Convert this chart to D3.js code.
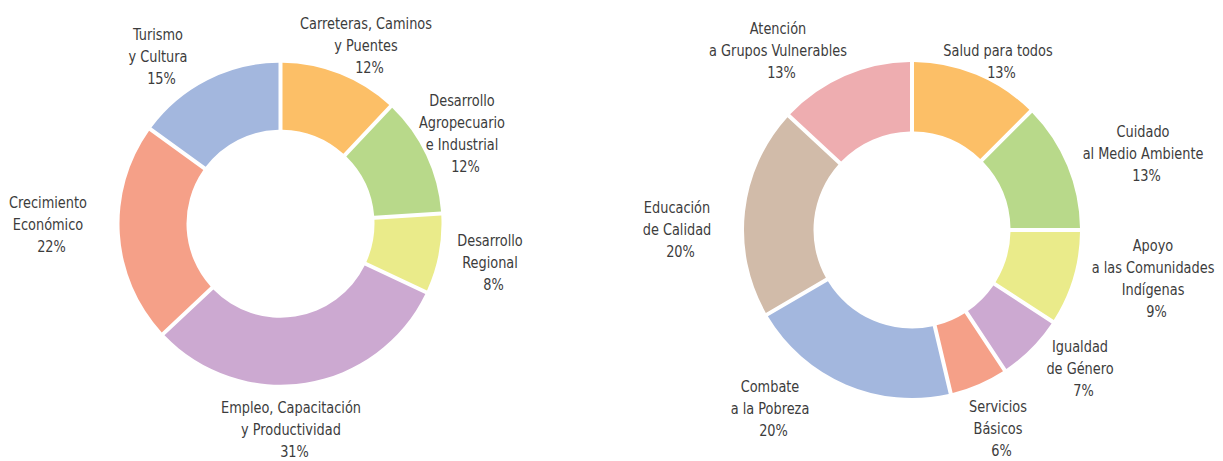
<!DOCTYPE html>
<html>
<head>
<meta charset="utf-8">
<script src="https://cdn.jsdelivr.net/npm/d3@7"></script>
<style>
  body { margin: 0; background: #fff; }
  text { font-family: "DejaVu Sans Condensed", "Liberation Sans Narrow", sans-serif; font-size: 16.5px; fill: #3c3c3c; }
</style>
</head>
<body>
<div id="chart"></div>
<script>
var width = 1223;
var height = 461;

// left donut
var leftNames = [
  ["Carreteras, Caminos", "y Puentes"],
  ["Desarrollo", "Agropecuario", "e Industrial"],
  ["Desarrollo", "Regional"],
  ["Empleo, Capacitación", "y Productividad"],
  ["Crecimiento", "Económico"],
  ["Turismo", "y Cultura"]
];
var leftValues = [12, 12, 8, 31, 22, 15];
var leftColors = ["#fcbf67", "#b8d98a", "#eaeb8a", "#cca9d1", "#f5a088", "#a3b7de"];

var rightNames = [
  ["Salud para todos"],
  ["Cuidado", "al Medio Ambiente"],
  ["Apoyo", "a las Comunidades", "Indígenas"],
  ["Igualdad", "de Género"],
  ["Servicios", "Básicos"],
  ["Combate", "a la Pobreza"],
  ["Educación", "de Calidad"],
  ["Atención", "a Grupos Vulnerables"]
];
var rightValues = [12.5, 12.5, 9.2, 6.5, 5.6, 20.3, 20.3, 13.1];
var rightColors = ["#fcbf67", "#b8d98a", "#eaeb8a", "#cca9d1", "#f5a088", "#a3b7de", "#d1bba9", "#eeadb0"];

// label anchors: [center x, first baseline y]
var leftLabelPos = [[366, 29], [462, 106], [490, 246], [291, 413], [48, 208], [158, 40]];
var rightLabelPos = [[998, 56], [1143, 137], [1153, 251], [1080, 352], [998, 412], [770, 392], [677, 213], [778, 34]];

var svg = d3.select("#chart").append("svg")
  .attr("width", width)
  .attr("height", height);

function drawDonut(cx, cy, rIn, rOut, names, values, colors, labelPos) {
  var total = d3.sum(values);
  var pie = d3.pie().sort(null).value(function (d) { return d; });
  var arc = d3.arc()
    .innerRadius(rIn)
    .outerRadius(rOut)
    .padRadius(rOut)
    .padAngle(4 / rOut);

  var g = svg.append("g").attr("transform", "translate(" + cx + "," + cy + ")");
  g.selectAll("path")
    .data(pie(values))
    .enter()
    .append("path")
    .attr("d", arc)
    .attr("fill", function (d, i) { return colors[i]; });

  // labels, squeezed a bit to look like the condensed face of the original
  names.forEach(function (lines, i) {
    var pct = Math.round(values[i] / total * 100) + "%";
    var t = svg.append("text")
      .attr("text-anchor", "middle")
      .attr("transform", "translate(" + labelPos[i][0] + "," + labelPos[i][1] + ") scale(0.87,1)");
    lines.concat([pct]).forEach(function (line, k) {
      t.append("tspan")
        .attr("x", k == lines.length ? 4 : 0)
        .attr("y", k * 22)
        .text(line);
    });
  });
}

drawDonut(280.5, 223.7, 94, 161, leftNames, leftValues, leftColors, leftLabelPos);
drawDonut(912, 230, 98.5, 168, rightNames, rightValues, rightColors, rightLabelPos);
</script>
</body>
</html>
